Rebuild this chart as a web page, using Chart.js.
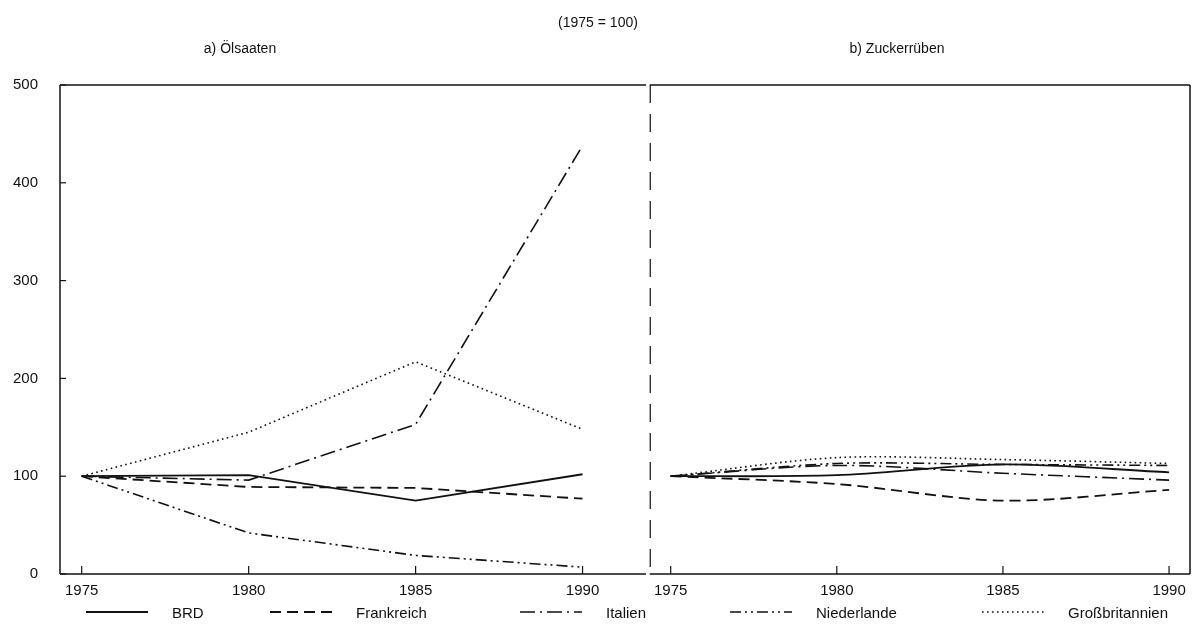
<!DOCTYPE html>
<html>
<head>
<meta charset="utf-8">
<script src="https://cdn.jsdelivr.net/npm/chart.js@4.4.1/dist/chart.umd.min.js"></script>
<style>
  body { margin: 0; background: #fff; font-family: "Liberation Sans", Arial, sans-serif; color: #111; }
  #wrap { position: relative; width: 1194px; height: 632px; overflow: hidden; }
  .txt { position: absolute; font-size: 14px; white-space: nowrap; transform: translate(-50%, -50%); }
  #c1 { position: absolute; left: 0; top: 0; }
  #c2 { position: absolute; left: 646px; top: 0; }
  .leg { position: absolute; top: 603px; height: 18px; display: flex; align-items: center; font-size: 15px; white-space: nowrap; }
  .leg svg { margin-right: 24px; }
</style>
</head>
<body>
<div id="wrap">
  <canvas id="c1" width="646" height="632" style="width:646px;height:632px"></canvas>
  <canvas id="c2" width="548" height="632" style="width:548px;height:632px"></canvas>
  <div class="txt" style="left:598px;top:22px">(1975 = 100)</div>
  <div class="txt" style="left:240px;top:48px">a) Ölsaaten</div>
  <div class="txt" style="left:897px;top:48px">b) Zuckerrüben</div>
  <div id="legend"></div>
</div>
<script>
// data
var years = [1975, 1980, 1985, 1990];
var yTicks = [0, 100, 200, 300, 400, 500];
var seriesNames = ['BRD', 'Frankreich', 'Italien', 'Niederlande', 'Großbritannien'];

// a) Ölsaaten
var oelBRD = [100, 101, 75, 102];
var oelFrankreich = [100, 89, 88, 77];
var oelItalien = [100, 96, 153, 438];
var oelNiederlande = [100, 42, 19, 7];
var oelGB = [100, 145, 217, 148];

// b) Zuckerrüben
var zuckBRD = [100, 101, 112, 104];
var zuckFrankreich = [100, 92, 75, 86];
var zuckItalien = [100, 111, 103, 96];
var zuckNiederlande = [100, 113, 112, 111];
var zuckGB = [100, 119, 117, 113];

// styles
var ink = '#111';
var dashes = [[], [11, 6], [15, 5, 2, 5], [11, 4, 2, 4, 2, 4], [1.6, 3.4]];
var widths = [1.8, 1.8, 1.6, 1.6, 1.6];
var legendX = [86, 270, 520, 730, 982];
var tickFont = { family: '"Liberation Sans", Arial, sans-serif', size: 15 };

function makeDatasets(seriesList, tension) {
  return seriesList.map(function(vals, i) {
    return {
      label: seriesNames[i],
      data: vals.map(function(v, j) { return { x: years[j], y: v }; }),
      borderColor: ink,
      borderWidth: widths[i],
      borderDash: dashes[i],
      pointRadius: 0,
      fill: false,
      tension: tension
    };
  });
}

function xScale(min, max) {
  return {
    type: 'linear', min: min, max: max,
    afterBuildTicks: function(s) { s.ticks = years.map(function(v) { return { value: v }; }); },
    afterFit: function(s) { s.height = 58; },
    grid: { display: false, drawTicks: false },
    border: { display: false },
    ticks: { padding: 8, color: ink, font: tickFont, maxRotation: 0, callback: function(v) { return String(v); } }
  };
}

function line(ctx, x1, y1, x2, y2) {
  ctx.beginPath(); ctx.moveTo(x1, y1); ctx.lineTo(x2, y2); ctx.stroke();
}

var leftFrame = {
  id: 'leftFrame',
  afterDatasetsDraw: function(chart) {
    var ctx = chart.ctx, a = chart.chartArea;
    ctx.save();
    ctx.strokeStyle = ink; ctx.lineWidth = 1.5;
    line(ctx, a.left, a.top, a.right, a.top);
    line(ctx, a.left, a.top, a.left, a.bottom);
    line(ctx, a.left, a.bottom, a.right, a.bottom);
    ctx.lineWidth = 1.2;
    years.forEach(function(v) {
      var x = chart.scales.x.getPixelForValue(v);
      line(ctx, x, a.bottom, x, a.bottom - 8);
    });
    yTicks.forEach(function(v) {
      var y = chart.scales.y.getPixelForValue(v);
      line(ctx, a.left, y, a.left + 6, y);
    });
    ctx.restore();
  }
};

var rightFrame = {
  id: 'rightFrame',
  afterDatasetsDraw: function(chart) {
    var ctx = chart.ctx, a = chart.chartArea;
    ctx.save();
    ctx.strokeStyle = ink; ctx.lineWidth = 1.5;
    line(ctx, a.left, a.top, a.right, a.top);
    line(ctx, a.right, a.top, a.right, a.bottom);
    line(ctx, a.left, a.bottom, a.right, a.bottom);
    ctx.lineWidth = 1.2;
    years.forEach(function(v) {
      var x = chart.scales.x.getPixelForValue(v);
      line(ctx, x, a.bottom, x, a.bottom - 8);
    });
    ctx.setLineDash([18, 11]);
    line(ctx, a.left + 0.5, a.top, a.left + 0.5, a.bottom);
    ctx.restore();
  }
};

new Chart(document.getElementById('c1'), {
  type: 'line',
  data: { datasets: makeDatasets([oelBRD, oelFrankreich, oelItalien, oelNiederlande, oelGB], 0) },
  options: {
    responsive: false, animation: false,
    layout: { padding: { top: 85, left: 0, right: 0, bottom: 0 } },
    plugins: { legend: { display: false }, tooltip: { enabled: false } },
    scales: {
      x: xScale(1974.35, 1991.9),
      y: {
        min: 0, max: 500,
        afterBuildTicks: function(s) { s.ticks = yTicks.map(function(v) { return { value: v }; }); },
        afterFit: function(s) { s.width = 60; },
        grid: { display: false, drawTicks: false },
        border: { display: false },
        ticks: { padding: 22, color: ink, font: tickFont }
      }
    }
  },
  plugins: [leftFrame]
});

new Chart(document.getElementById('c2'), {
  type: 'line',
  data: { datasets: makeDatasets([zuckBRD, zuckFrankreich, zuckItalien, zuckNiederlande, zuckGB], 0.3) },
  options: {
    responsive: false, animation: false,
    layout: { padding: { top: 85, left: 0, right: 4, bottom: 0 } },
    plugins: { legend: { display: false }, tooltip: { enabled: false } },
    scales: {
      x: xScale(1974.37, 1990.63),
      y: { display: false, min: 0, max: 500 }
    }
  },
  plugins: [rightFrame]
});

// legend
var legend = document.getElementById('legend');
seriesNames.forEach(function(name, i) {
  var item = document.createElement('div');
  item.className = 'leg';
  item.style.left = legendX[i] + 'px';
  var svgNS = 'http://www.w3.org/2000/svg';
  var svg = document.createElementNS(svgNS, 'svg');
  svg.setAttribute('width', '62'); svg.setAttribute('height', '6');
  var ln = document.createElementNS(svgNS, 'line');
  ln.setAttribute('x1', '0'); ln.setAttribute('y1', '3');
  ln.setAttribute('x2', '62'); ln.setAttribute('y2', '3');
  ln.setAttribute('stroke', ink);
  ln.setAttribute('stroke-width', String(widths[i]));
  if (dashes[i].length) ln.setAttribute('stroke-dasharray', dashes[i].join(' '));
  svg.appendChild(ln);
  item.appendChild(svg);
  var span = document.createElement('span');
  span.textContent = name;
  item.appendChild(span);
  legend.appendChild(item);
});
</script>
</body>
</html>
